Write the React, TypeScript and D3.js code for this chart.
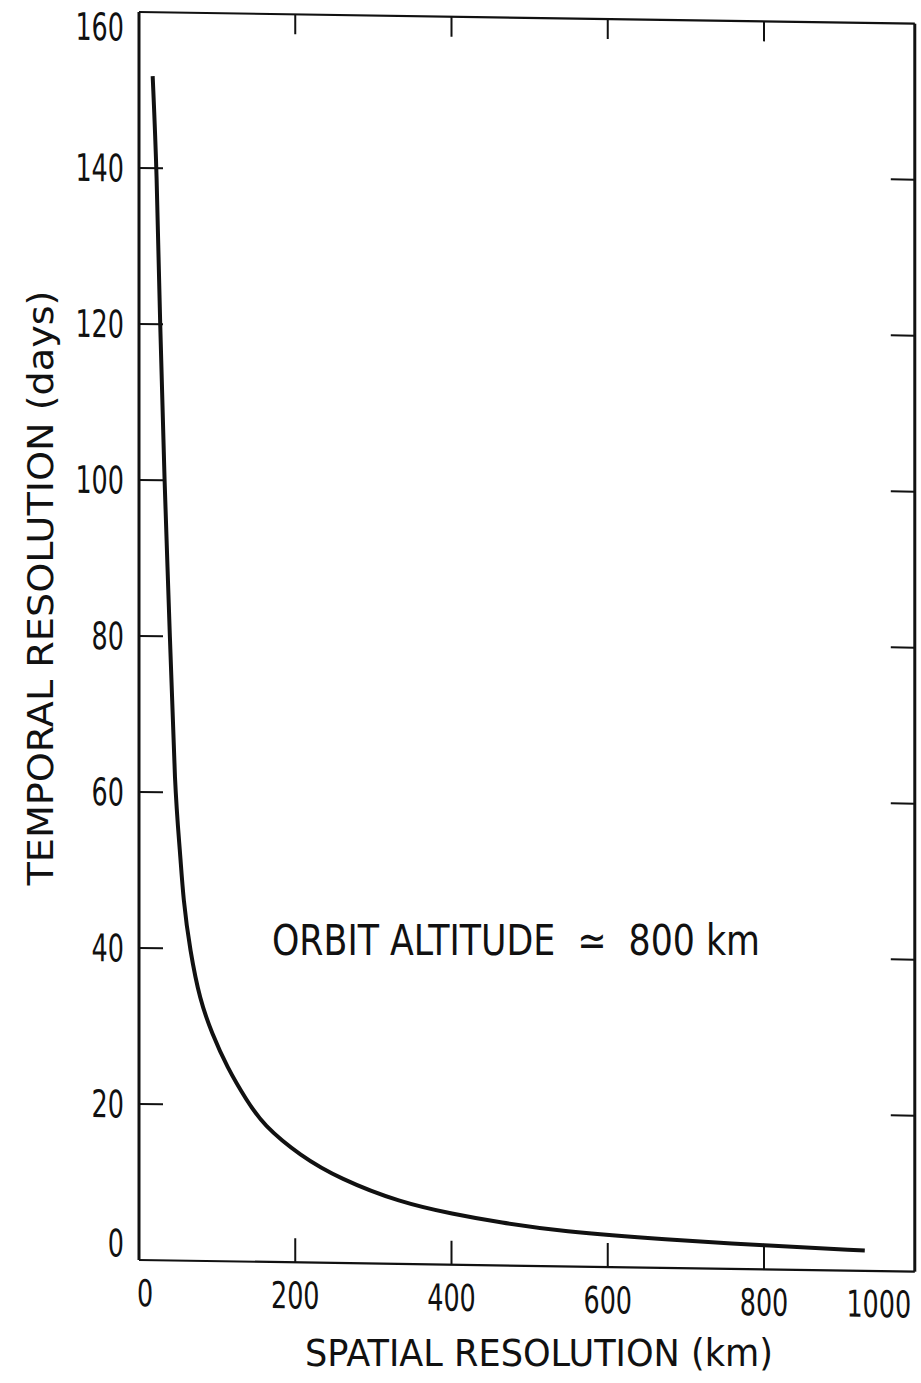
import React from "react";
import * as d3 from "d3";

// values
const spatialKm = [17.5, 22.7, 26.9, 32.4, 39.7, 46, 52.5, 56.7, 65.3, 78, 93.4, 112.6, 138.2, 158.7, 206, 257, 334, 402, 462, 539, 676, 799, 929];
const temporalDays = [151.8, 140, 120.2, 100.3, 79.9, 59.9, 52.6, 46.2, 39.8, 33.4, 29.2, 24.9, 20.6, 17.6, 13.7, 10.8, 7.9, 6.5, 5.5, 4.5, 3.6, 3.1, 2.6];

const xTicks = [0, 200, 400, 600, 800, 1000];
const yTicks = [0, 20, 40, 60, 80, 100, 120, 140, 160];
const innerXTicks = [200, 400, 600, 800];
const innerYTicks = [20, 40, 60, 80, 100, 120, 140];

const xTitle = "SPATIAL RESOLUTION (km)";
const yTitle = "TEMPORAL RESOLUTION (days)";
const note = "ORBIT ALTITUDE  \u2243  800 km";

const width = 921;
const height = 1383;
const xMax = 993; // right frame edge in km
const shear = 0.015; // the scan is slightly skewed

const font = "'DejaVu Sans', 'Liberation Sans', sans-serif";
const ink = "#111";

// condensed digits: fixed advance per character
const digitWidth = 16.2;

const App = () => {
  const x = d3.scaleLinear().domain([0, 1000]).range([139, 920.25]);
  const y = d3.scaleLinear().domain([0, 160]).range([1260, 12]);

  const left = x(0);
  const right = x(xMax);
  const top = y(160);
  const bottom = y(0);

  const points = spatialKm.map((d, i) => [d, temporalDays[i]] as [number, number]);
  const line = d3
    .line<[number, number]>()
    .x((d) => x(d[0]))
    .y((d) => y(d[1]))
    .curve(d3.curveBasis);

  const tick = 24;

  return (
    <svg
      width={width}
      height={height}
      style={{ position: "absolute", left: 0, top: 0, background: "#fff" }}
    >
      <g transform={`matrix(1, ${shear}, 0, 1, 0, ${-shear * left})`}>
        {/* frame */}
        <line x1={left} x2={left} y1={top} y2={bottom} stroke={ink} strokeWidth={3} />
        <line x1={right} x2={right} y1={top} y2={bottom} stroke={ink} strokeWidth={3} />
        <line x1={left} x2={right} y1={top} y2={top} stroke={ink} strokeWidth={2.2} />
        <line x1={left} x2={right} y1={bottom} y2={bottom} stroke={ink} strokeWidth={2.2} />

        {/* inward ticks */}
        {innerXTicks.map((t) => (
          <g key={`xt${t}`}>
            <line x1={x(t)} x2={x(t)} y1={bottom} y2={bottom - tick} stroke={ink} strokeWidth={2} />
            <line x1={x(t)} x2={x(t)} y1={top} y2={top + tick - 4} stroke={ink} strokeWidth={2} />
          </g>
        ))}
        {innerYTicks.map((t) => (
          <g key={`yt${t}`}>
            <line x1={left} x2={left + tick} y1={y(t)} y2={y(t)} stroke={ink} strokeWidth={2} />
            <line x1={right} x2={right - tick} y1={y(t)} y2={y(t)} stroke={ink} strokeWidth={2} />
          </g>
        ))}

        {/* tick labels */}
        {yTicks.map((t) => (
          <text
            key={`yl${t}`}
            x={124}
            y={Math.min(Math.max(y(t), top + 15), bottom - 17)}
            dy="0.36em"
            textAnchor="end"
            fontFamily={font}
            fontSize={38}
            fill={ink}
            textLength={String(t).length * digitWidth}
            lengthAdjust="spacingAndGlyphs"
          >
            {t}
          </text>
        ))}
        {xTicks.map((t) => (
          <text
            key={`xl${t}`}
            x={Math.min(Math.max(x(t), left + 6), right - 36)}
            y={bottom + 46}
            textAnchor="middle"
            fontFamily={font}
            fontSize={37}
            fill={ink}
            textLength={String(t).length * digitWidth}
            lengthAdjust="spacingAndGlyphs"
          >
            {t}
          </text>
        ))}

        {/* curve */}
        <path
          d={line(points) ?? ""}
          fill="none"
          stroke={ink}
          strokeWidth={4}
          strokeLinejoin="round"
        />
      </g>

      {/* titles */}
      <text
        x={539}
        y={1366}
        textAnchor="middle"
        fontFamily={font}
        fontSize={37}
        fill={ink}
        textLength={468}
        lengthAdjust="spacingAndGlyphs"
      >
        {xTitle}
      </text>
      <text
        transform="translate(53, 588) rotate(-90)"
        textAnchor="middle"
        fontFamily={font}
        fontSize={36}
        fill={ink}
        textLength={595}
        lengthAdjust="spacingAndGlyphs"
      >
        {yTitle}
      </text>
      <text
        x={272}
        y={955}
        fontFamily={font}
        fontSize={42}
        fill={ink}
        textLength={488}
        lengthAdjust="spacingAndGlyphs"
        style={{ whiteSpace: "pre" }}
      >
        {note}
      </text>
    </svg>
  );
};

export default App;
